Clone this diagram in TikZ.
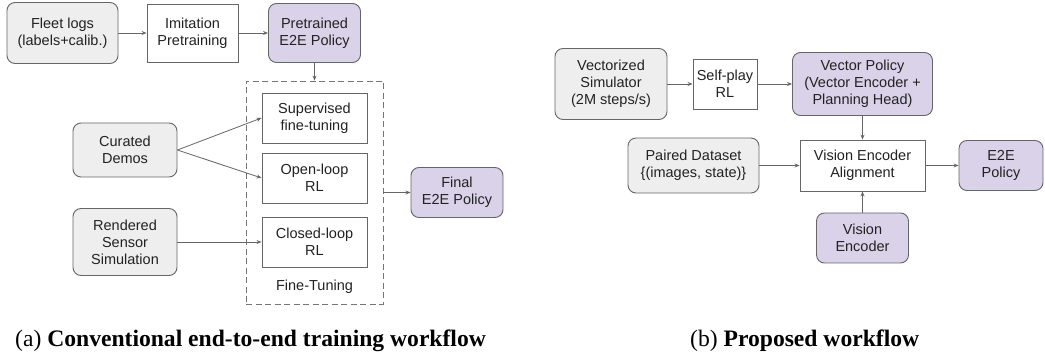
\documentclass[tikz,border=0pt]{standalone}
\usepackage{fontspec}
\setmainfont{Liberation Serif}
\newfontfamily\boxfont{Liberation Sans}
\usetikzlibrary{arrows.meta}

\definecolor{edgegray}{HTML}{666666}
\definecolor{greyfill}{HTML}{EEEEEE}
\definecolor{lilac}{HTML}{D9D2E9}
\definecolor{inkdark}{HTML}{222222}

\tikzset{
  blk/.style={draw=edgegray, line width=0.9pt, align=center, inner sep=0pt,
    text=inkdark, font=\boxfont\fontsize{14.5}{17}\selectfont},
  inbox/.style={blk, rounded corners=8pt, fill=greyfill},
  procbox/.style={blk, fill=white},
  policybox/.style={blk, rounded corners=8pt, fill=lilac},
  stagebox/.style={draw=edgegray!90, line width=0.8pt, dash pattern=on 6pt off 3.5pt, inner sep=0pt},
  arr/.style={draw=edgegray, line width=0.8pt, -{Stealth[length=5pt, width=4pt]}},
  caption/.style={font=\fontsize{23.6}{28}\selectfont, inner sep=0pt, anchor=base west}
}

\begin{document}
\begin{tikzpicture}[x=1pt, y=-1pt]
\useasboundingbox (0,0) rectangle (1045,358);

% ---------- (a) conventional workflow ----------
\node[inbox, minimum width=111pt, minimum height=61pt] (fleet) at (62.5,33) {Fleet logs\\(labels+calib.)};
\node[procbox, minimum width=91pt, minimum height=58pt] (imit) at (192.5,33) {Imitation\\Pretraining};
\node[policybox, minimum width=92pt, minimum height=59pt] (pre) at (314.5,33) {Pretrained\\E2E Policy};

\node[stagebox, minimum width=137pt, minimum height=223pt] (ft) at (314.5,192.5) {};
\node[procbox, minimum width=105pt, minimum height=50pt] (sft) at (314.5,118) {Supervised\\fine-tuning};
\node[procbox, minimum width=105pt, minimum height=50pt] (olrl) at (314.5,178) {Open-loop\\RL};
\node[procbox, minimum width=105pt, minimum height=50pt] (clrl) at (314.5,242) {Closed-loop\\RL};
\node[text=inkdark, font=\boxfont\fontsize{14.5}{17}\selectfont, inner sep=0pt] (ftlabel) at (314.5,287) {Fine-Tuning};

\node[inbox, minimum width=104pt, minimum height=54pt] (demos) at (125,150) {Curated\\Demos};
\node[inbox, minimum width=104pt, minimum height=67pt] (render) at (125,242) {Rendered\\Sensor\\Simulation};
\node[policybox, minimum width=92pt, minimum height=50pt] (final) at (457,192.5) {Final\\E2E Policy};

\draw[arr] (fleet.east) -- (imit.west);
\draw[arr] (imit.east) -- (pre.west);
\draw[arr] (pre.south) -- (pre.south |- ft.north);
\draw[arr] (demos.east) -- (sft.west);
\draw[arr] (demos.east) -- (olrl.west);
\draw[arr] (render.east) -- (clrl.west);
\draw[arr] (ft.east) -- (final.west);

% ---------- (b) proposed workflow ----------
\node[inbox, minimum width=112pt, minimum height=71pt] (vsim) at (611,84) {Vectorized\\Simulator\\(2M steps/s)};
\node[procbox, minimum width=64pt, minimum height=50pt] (selfplay) at (725,84) {Self-play\\RL};
\node[policybox, minimum width=140pt, minimum height=63pt] (vpol) at (862.5,84) {Vector Policy\\(Vector Encoder +\\Planning Head)};
\node[inbox, minimum width=131pt, minimum height=55pt] (paired) at (693.5,165.5) {Paired Dataset\\\{(images, state)\}};
\node[procbox, minimum width=125pt, minimum height=51pt] (align) at (862.5,165.5) {Vision Encoder\\Alignment};
\node[policybox, minimum width=84pt, minimum height=50pt] (e2e) at (1001,165.5) {E2E\\Policy};
\node[policybox, minimum width=92pt, minimum height=50pt] (venc) at (862.5,238) {Vision\\Encoder};

\draw[arr] (vsim.east) -- (selfplay.west);
\draw[arr] (selfplay.east) -- (vpol.west);
\draw[arr] (vpol.south) -- (align.north);
\draw[arr] (paired.east) -- (align.west);
\draw[arr] (align.east) -- (e2e.west);
\draw[arr] (venc.north) -- (align.south);

% ---------- captions ----------
\node[caption] (capa) at (15,346) {(a) \textbf{Conventional end-to-end training workflow}};
\node[caption] (capb) at (690,346) {(b) \textbf{Proposed workflow}};
\end{tikzpicture}
\end{document}
